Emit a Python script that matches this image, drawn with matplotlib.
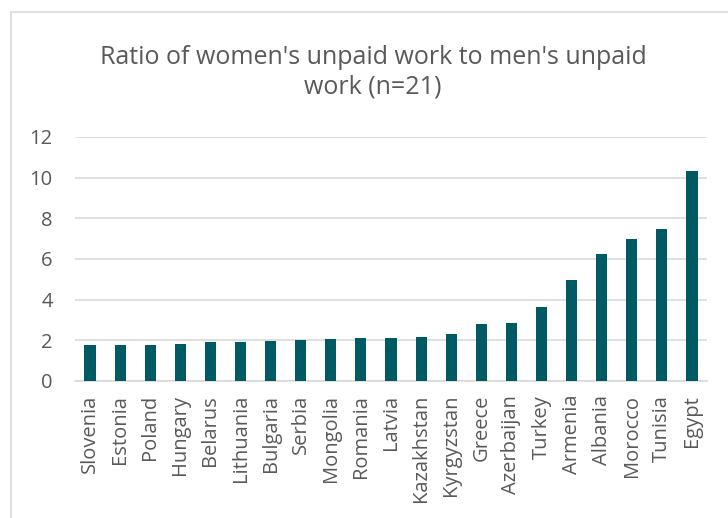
import numpy as np
import matplotlib.pyplot as plt
from matplotlib.patches import Rectangle

# data
countries = ["Slovenia", "Estonia", "Poland", "Hungary", "Belarus", "Lithuania",
             "Bulgaria", "Serbia", "Mongolia", "Romania", "Latvia", "Kazakhstan",
             "Kyrgyzstan", "Greece", "Azerbaijan", "Turkey", "Armenia", "Albania",
             "Morocco", "Tunisia", "Egypt"]
ratios = [1.75, 1.75, 1.79, 1.84, 1.92, 1.92, 1.98, 2.02, 2.07, 2.10, 2.13, 2.16,
          2.33, 2.79, 2.85, 3.62, 4.95, 6.25, 6.98, 7.48, 10.31]
yticks = [0, 2, 4, 6, 8, 10, 12]

TEXT = "#595959"
BAR = "#005A64"
GRID = "#D9D9D9"

plt.rcParams['font.family'] = ['Open Sans', 'DejaVu Sans']

W, H = 728, 518
fig = plt.figure(figsize=(W / 100, H / 100), dpi=100)

# chart border (only top and left edges visible in the reference)
fig.patches.append(Rectangle((11 / W, -0.1), 1.2, 1 - 12 / H + 0.1,
                             transform=fig.transFigure, fill=False,
                             edgecolor=GRID, linewidth=1.2))

ax = fig.add_axes([75 / W, 1 - 381 / H, (707 - 75) / W, (381 - 137) / H])
x = np.arange(len(countries))
ax.bar(x, ratios, width=0.37, color=BAR, zorder=3)

ax.set_xlim(-0.5, len(countries) - 0.5)
ax.set_ylim(0, 12)
ax.set_yticks(yticks)
ax.set_xticks(x)
ax.set_xticklabels(countries, rotation=90, va="top", ha="center")
ax.tick_params(axis="both", length=0, colors=TEXT, labelsize=14.5)
ax.tick_params(axis="x", pad=10)
ax.tick_params(axis="y", pad=16)
ax.grid(axis="y", color=GRID, linewidth=1.2, zorder=0)
for s in ["top", "right", "left"]:
    ax.spines[s].set_visible(False)
ax.spines["bottom"].set_color(GRID)
ax.spines["bottom"].set_linewidth(1.2)

fig.text(373 / W, 1 - 72 / H, "Ratio of women's unpaid work to men's unpaid\nwork (n=21)",
         ha="center", va="center", fontsize=18, color=TEXT, linespacing=1.25)

fig.savefig("out.png", dpi=100)
